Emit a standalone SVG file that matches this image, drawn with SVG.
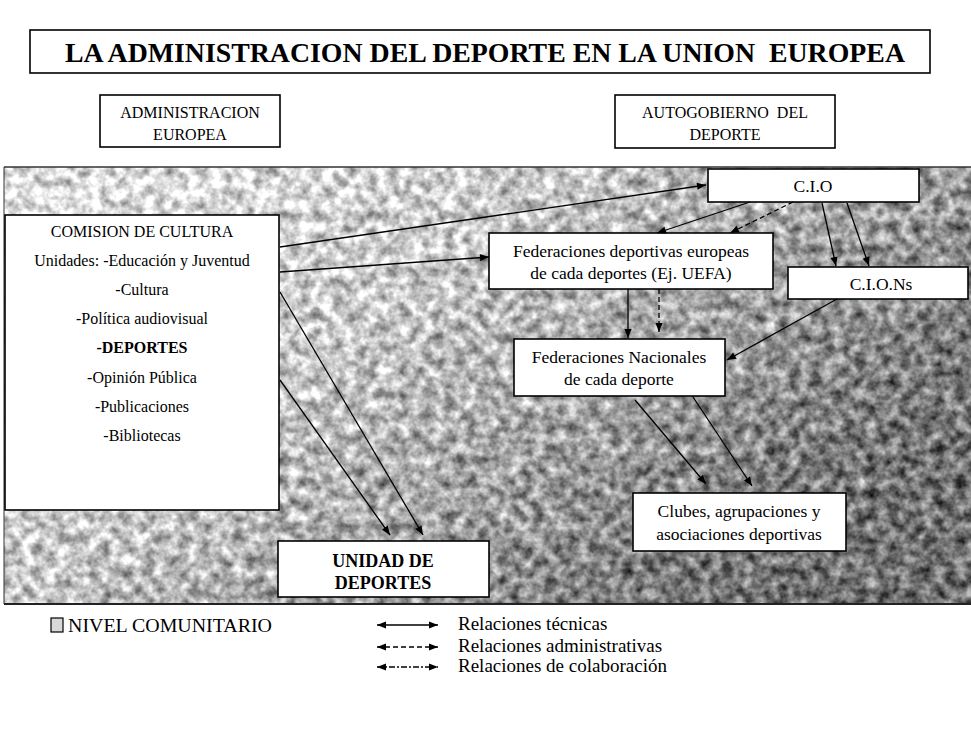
<svg xmlns="http://www.w3.org/2000/svg" width="971" height="729" viewBox="0 0 971 729">
<style>
  .box { fill: #fff; stroke: #000; stroke-width: 1.6; }
  .t { fill: #000; text-anchor: middle; }
  .lt { fill: #000; }
  .c { fill: none; stroke: #000; stroke-width: 1.3; }
  .dash { stroke-dasharray: 5 3; }
  .dd { stroke-dasharray: 6 2 2 2; }
</style>
<defs>
  <marker id="ah" viewBox="0 0 10 10" refX="10" refY="5" markerWidth="10" markerHeight="9" markerUnits="userSpaceOnUse" orient="auto-start-reverse">
    <path d="M0,1 L10,5 L0,9 z" fill="#000"/>
  </marker>
  <linearGradient id="bg" x1="0" y1="0.2" x2="1" y2="0.8">
    <stop offset="0" stop-color="#e2e2e2"/>
    <stop offset="0.35" stop-color="#c8c8c8"/>
    <stop offset="0.65" stop-color="#9a9a9a"/>
    <stop offset="0.85" stop-color="#767676"/>
    <stop offset="1" stop-color="#707070"/>
  </linearGradient>
  <filter id="tex" x="0" y="0" width="1" height="1" color-interpolation-filters="sRGB">
    <feTurbulence type="fractalNoise" baseFrequency="0.09 0.09" numOctaves="3" seed="7" result="n"/>
    <feColorMatrix in="n" type="matrix" values="1 0 0 0 0  1 0 0 0 0  1 0 0 0 0  0 0 0 0 1" result="g"/>
    <feComposite in="SourceGraphic" in2="g" operator="arithmetic" k1="0" k2="1" k3="1.0" k4="-0.5"/>
  </filter>
</defs>

<rect width="971" height="729" fill="#fff"/>
<g id="band">
  <rect x="4" y="167" width="967" height="437" fill="url(#bg)" filter="url(#tex)"/>
  <line x1="4" y1="167" x2="971" y2="167" stroke="#333" stroke-width="1.5"/>
  <line x1="4" y1="604" x2="971" y2="604" stroke="#222" stroke-width="2"/>
  <line x1="4" y1="167" x2="4" y2="604" stroke="#333" stroke-width="1"/>
</g>

<g font-family="'Liberation Serif', 'DejaVu Serif', 'Times New Roman', serif">
<g id="title">
  <rect class="box" x="30" y="30" width="900" height="43"/>
  <text class="t" x="485" y="62" font-size="28" font-weight="bold" textLength="840" lengthAdjust="spacingAndGlyphs" xml:space="preserve">LA ADMINISTRACION DEL DEPORTE EN LA UNION  EUROPEA</text>
</g>

<g id="admin-europea">
  <rect class="box" x="100" y="95" width="180" height="52"/>
  <text class="t" x="190" y="118" font-size="16">ADMINISTRACION</text>
  <text class="t" x="190" y="140" font-size="16">EUROPEA</text>
</g>

<g id="autogobierno">
  <rect class="box" x="615" y="95" width="220" height="53"/>
  <text class="t" x="725" y="118" font-size="16" xml:space="preserve">AUTOGOBIERNO  DEL</text>
  <text class="t" x="725" y="140" font-size="16">DEPORTE</text>
</g>

<g id="comision">
  <rect class="box" x="5" y="215" width="274" height="295"/>
  <text class="t" x="142" y="237" font-size="16">COMISION DE CULTURA</text>
  <text class="t" x="142" y="266" font-size="16">Unidades: -Educación y Juventud</text>
  <text class="t" x="142" y="295" font-size="16">-Cultura</text>
  <text class="t" x="142" y="324" font-size="16">-Política audiovisual</text>
  <text class="t" x="142" y="353" font-size="16" font-weight="bold">-DEPORTES</text>
  <text class="t" x="142" y="383" font-size="16">-Opinión Pública</text>
  <text class="t" x="142" y="412" font-size="16">-Publicaciones</text>
  <text class="t" x="142" y="441" font-size="16">-Bibliotecas</text>
</g>

<g id="cio">
  <rect class="box" x="708" y="169" width="211" height="33"/>
  <text class="t" x="813" y="192" font-size="17.5">C.I.O</text>
</g>

<g id="fed-europeas">
  <rect class="box" x="489" y="233" width="284" height="56"/>
  <text class="t" x="631" y="257" font-size="17.5">Federaciones deportivas europeas</text>
  <text class="t" x="631" y="279" font-size="17.5">de cada deportes (Ej. UEFA)</text>
</g>

<g id="cions">
  <rect class="box" x="788" y="267" width="180" height="32"/>
  <text class="t" x="881" y="290" font-size="17.5">C.I.O.Ns</text>
</g>

<g id="fed-nacionales">
  <rect class="box" x="514" y="339" width="211" height="57"/>
  <text class="t" x="619" y="363" font-size="17.5">Federaciones Nacionales</text>
  <text class="t" x="619" y="385" font-size="17.5">de cada deporte</text>
</g>

<g id="clubes">
  <rect class="box" x="633" y="493" width="213" height="58"/>
  <text class="t" x="739" y="517" font-size="17.5">Clubes, agrupaciones y</text>
  <text class="t" x="739" y="540" font-size="17.5">asociaciones deportivas</text>
</g>

<g id="unidad">
  <rect class="box" x="278" y="541" width="211" height="56"/>
  <text class="t" x="383" y="567" font-size="18" font-weight="bold">UNIDAD DE</text>
  <text class="t" x="383" y="589" font-size="18" font-weight="bold">DEPORTES</text>
</g>

<g id="legend">
  <rect x="51" y="618" width="12" height="14" fill="#d8d8d8" stroke="#000" stroke-width="1.2"/>
  <text class="lt" x="68" y="632" font-size="18" textLength="204" lengthAdjust="spacingAndGlyphs">NIVEL COMUNITARIO</text>
  <line class="c" x1="377" y1="625" x2="438" y2="625" marker-start="url(#ah)" marker-end="url(#ah)"/>
  <line class="c dash" x1="377" y1="647" x2="438" y2="647" marker-start="url(#ah)" marker-end="url(#ah)"/>
  <line class="c dd" x1="377" y1="667" x2="438" y2="667" marker-start="url(#ah)" marker-end="url(#ah)"/>
  <text class="lt" x="458" y="630" font-size="19">Relaciones técnicas</text>
  <text class="lt" x="458" y="652" font-size="19">Relaciones administrativas</text>
  <text class="lt" x="458" y="672" font-size="19">Relaciones de colaboración</text>
</g>
</g>

<g id="connectors">
  <line class="c" x1="280" y1="247" x2="706" y2="185" marker-end="url(#ah)"/>
  <line class="c" x1="280" y1="272" x2="489" y2="257" marker-end="url(#ah)"/>
  <line class="c" x1="280" y1="292" x2="423" y2="535" marker-end="url(#ah)"/>
  <line class="c" x1="280" y1="380" x2="390" y2="535" marker-end="url(#ah)"/>
  <line class="c" x1="750" y1="202" x2="657" y2="233" marker-end="url(#ah)"/>
  <line class="c dash" x1="793" y1="202" x2="730" y2="233" marker-end="url(#ah)"/>
  <line class="c" x1="822" y1="203" x2="836" y2="266" marker-end="url(#ah)"/>
  <line class="c" x1="847" y1="203" x2="869" y2="266" marker-end="url(#ah)"/>
  <line class="c" x1="628" y1="289" x2="628" y2="338" marker-end="url(#ah)"/>
  <line class="c dash" x1="659" y1="289" x2="659" y2="332" marker-end="url(#ah)"/>
  <line class="c" x1="837" y1="299" x2="727" y2="360" marker-end="url(#ah)"/>
  <line class="c" x1="635" y1="400" x2="706" y2="484" marker-end="url(#ah)"/>
  <line class="c" x1="693" y1="397" x2="752" y2="486" marker-end="url(#ah)"/>
</g>
</svg>
